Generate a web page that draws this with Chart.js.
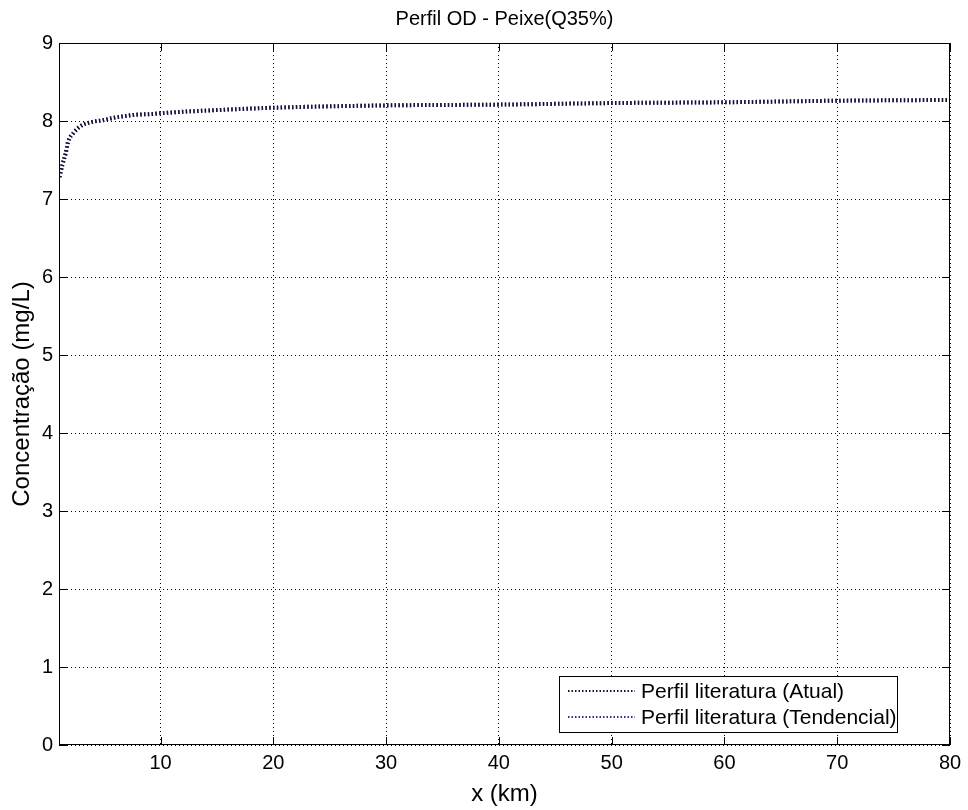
<!DOCTYPE html>
<html>
<head>
<meta charset="utf-8">
<script src="https://cdn.jsdelivr.net/npm/chart.js@4/dist/chart.umd.min.js"></script>
<style>
  html, body { margin: 0; padding: 0; background: #fff; }
  #wrap { width: 968px; height: 810px; }
</style>
</head>
<body>
<div id="wrap"><canvas id="odChart" width="968" height="810"></canvas></div>
<script>
// distance along the river (km) and dissolved oxygen
const xKm = [1.05, 1.3, 1.6, 1.8, 2.3, 2.7, 3.1, 4.0, 4.9, 5.8, 6.7, 7.8, 9.3, 10, 15, 20, 30, 40, 50, 60, 70, 80];
const odAtual = [7.28, 7.44, 7.59, 7.73, 7.85, 7.91, 7.95, 7.99, 8.01, 8.04, 8.06, 8.08, 8.09, 8.10, 8.14, 8.17, 8.20, 8.21, 8.23, 8.24, 8.26, 8.27];
const odTendencial = [7.28, 7.44, 7.59, 7.73, 7.85, 7.91, 7.95, 7.99, 8.01, 8.04, 8.06, 8.08, 8.09, 8.10, 8.14, 8.17, 8.20, 8.21, 8.23, 8.24, 8.26, 8.27];
const xTicks = [10, 20, 30, 40, 50, 60, 70, 80];
const yTicks = [0, 1, 2, 3, 4, 5, 6, 7, 8, 9];
const seriesNames = ['Perfil literatura (Atual)', 'Perfil literatura (Tendencial)'];
const chartTitle = 'Perfil OD - Peixe(Q35%)';

const FONT = '"Liberation Sans", Arial, sans-serif';

function toPoints(xs, ys) {
  return xs.map((x, i) => ({ x: x, y: ys[i] }));
}

// title centred over the axes, box, inward tick marks and the legend inside the plot
const matlabFrame = {
  id: 'matlabFrame',
  afterDraw(chart) {
    const { ctx, chartArea: a, scales } = chart;
    ctx.save();

    ctx.fillStyle = '#000';
    ctx.font = '20px ' + FONT;
    ctx.textAlign = 'center';
    ctx.textBaseline = 'middle';
    ctx.fillText(chartTitle, (a.left + a.right) / 2, 19);
    ctx.textAlign = 'left';

    ctx.strokeStyle = '#000';
    ctx.lineWidth = 1;
    ctx.setLineDash([]);
    ctx.strokeRect(a.left + 0.5, a.top + 0.5, a.right - a.left - 1, a.bottom - a.top - 1);

    const tl = 8;
    ctx.beginPath();
    xTicks.forEach(v => {
      const px = Math.round(scales.x.getPixelForValue(v)) + 0.5;
      ctx.moveTo(px, a.bottom); ctx.lineTo(px, a.bottom - tl);
      ctx.moveTo(px, a.top); ctx.lineTo(px, a.top + tl);
    });
    yTicks.forEach(v => {
      const py = Math.round(scales.y.getPixelForValue(v)) + 0.5;
      ctx.moveTo(a.left, py); ctx.lineTo(a.left + tl, py);
      ctx.moveTo(a.right, py); ctx.lineTo(a.right - tl, py);
    });
    ctx.stroke();

    // legend
    const lx = 559, ly = 676, lw = 338, lh = 56;
    ctx.fillStyle = '#fff';
    ctx.fillRect(lx, ly, lw, lh);
    ctx.strokeRect(lx + 0.5, ly + 0.5, lw, lh);
    ctx.font = '21px ' + FONT;
    ctx.textBaseline = 'middle';
    chart.data.datasets.forEach((ds, i) => {
      const y = ly + 15 + i * 26;
      ctx.strokeStyle = ds.borderColor;
      ctx.lineWidth = 2;
      ctx.setLineDash([1.5, 2]);
      ctx.beginPath();
      ctx.moveTo(lx + 9, y); ctx.lineTo(lx + 76, y);
      ctx.stroke();
      ctx.setLineDash([]);
      ctx.fillStyle = '#000';
      ctx.fillText(ds.label, lx + 82, y + 1);
    });
    ctx.restore();
  }
};

const ctx = document.getElementById('odChart').getContext('2d');
new Chart(ctx, {
  type: 'line',
  data: {
    datasets: [
      {
        label: seriesNames[0],
        data: toPoints(xKm, odAtual),
        borderColor: '#141432',
        borderWidth: 4,
        borderDash: [1.4, 2.4],
        pointRadius: 0,
        fill: false,
        cubicInterpolationMode: 'monotone',
      },
      {
        label: seriesNames[1],
        data: toPoints(xKm, odTendencial),
        borderColor: '#2e2e8c',
        borderWidth: 4,
        borderDash: [1.4, 2.4],
        pointRadius: 0,
        fill: false,
        cubicInterpolationMode: 'monotone',
      },
    ],
  },
  options: {
    responsive: false,
    animation: false,
    layout: { padding: { top: 43, right: 18, bottom: 1, left: 0 } },
    plugins: {
      legend: { display: false },
      tooltip: { enabled: false },
      title: { display: false },
    },
    scales: {
      x: {
        type: 'linear',
        min: 1,
        max: 80,
        afterBuildTicks: (scale) => { scale.ticks = xTicks.map(v => ({ value: v })); },
        afterFit: (scale) => { scale.height = 64; },
        ticks: {
          color: '#000',
          font: { family: FONT, size: 20 },
          padding: 6,
          maxRotation: 0,
        },
        grid: { color: '#000', lineWidth: 1, drawTicks: false },
        border: { display: false, dash: [1, 3] },
        title: {
          display: true,
          text: 'x (km)',
          color: '#000',
          font: { family: FONT, size: 24 },
          padding: { top: 0, bottom: 0 },
        },
      },
      y: {
        min: 0,
        max: 9,
        afterBuildTicks: (scale) => { scale.ticks = yTicks.map(v => ({ value: v })); },
        afterFit: (scale) => { scale.width = 59; },
        ticks: {
          color: '#000',
          font: { family: FONT, size: 20 },
          padding: 6,
        },
        grid: { color: '#000', lineWidth: 1, drawTicks: false },
        border: { display: false, dash: [1, 3] },
        title: {
          display: true,
          text: 'Concentração (mg/L)',
          color: '#000',
          font: { family: FONT, size: 24 },
          padding: { top: 8, bottom: 0 },
        },
      },
    },
  },
  plugins: [matlabFrame],
});
</script>
</body>
</html>
